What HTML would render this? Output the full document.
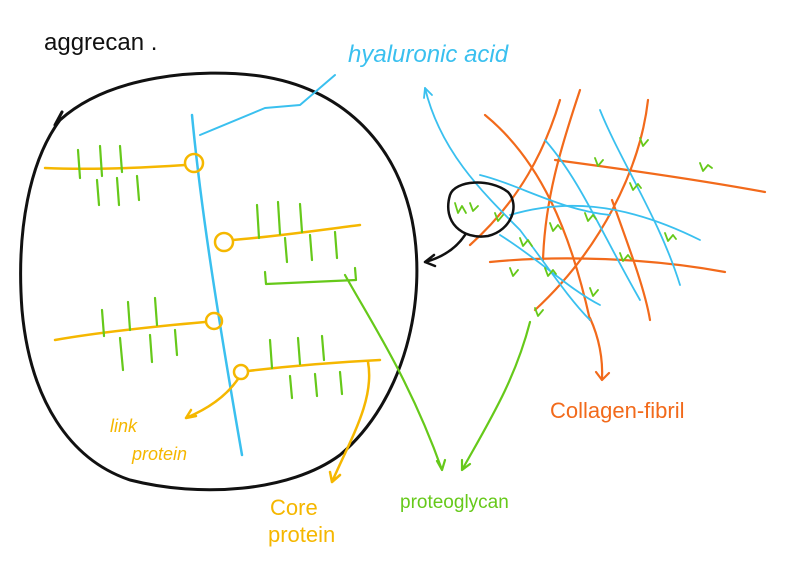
<!DOCTYPE html>
<html><head><meta charset="utf-8"><style>
html,body{margin:0;padding:0;background:#fff;}
svg{display:block}
text{font-family:"Liberation Sans",sans-serif;}
</style></head><body>
<svg width="800" height="586" viewBox="0 0 800 586" xmlns="http://www.w3.org/2000/svg" fill="none" stroke-linecap="round" stroke-linejoin="round">
<text x="44" y="50" font-size="24" fill="#111" stroke="none">aggrecan .</text>
<path d="M60,120 C110,75 200,68 260,76 C340,88 395,140 412,220 C428,300 405,400 340,455 C290,492 200,498 130,480 C70,460 30,400 22,310 C16,230 30,160 60,120 Z M55,125 L62,112" stroke="#111" stroke-width="3"/>
<path d="M192,115 C200,200 215,300 242,455" stroke="#3ac0ef" stroke-width="2.5"/>
<path d="M200,135 L265,108 L300,105 L335,75" stroke="#3ac0ef" stroke-width="2"/>
<text x="348" y="62" font-size="24" font-style="italic" fill="#3ac0ef" stroke="none">hyaluronic acid</text>
<g stroke="#f5b700" stroke-width="2.5">
<path d="M45,168 C90,170 140,168 185,165"/><circle cx="194" cy="163" r="9"/>
<circle cx="224" cy="242" r="9"/><path d="M233,240 C280,236 320,230 360,225"/>
<path d="M55,340 C100,332 160,326 205,322"/><circle cx="214" cy="321" r="8"/>
<circle cx="241" cy="372" r="7"/><path d="M248,371 C290,366 340,362 380,360"/>
<path d="M238,379 C225,398 205,410 186,418 M186,418 l10,-2 M186,418 l5,-8"/>
<path d="M368,362 C375,400 350,440 332,482 M332,482 l-2,-10 M332,482 l8,-7"/>
</g>
<text x="110" y="432" font-size="18" font-style="italic" fill="#f5b700" stroke="none">link</text>
<text x="132" y="460" font-size="18" font-style="italic" fill="#f5b700" stroke="none">protein</text>
<text x="270" y="515" font-size="22" fill="#f5b700" stroke="none">Core</text>
<text x="268" y="542" font-size="22" fill="#f5b700" stroke="none">protein</text>
<g stroke="#66c91a" stroke-width="2.2">
<path d="M78,150 L80,178 M100,146 L102,176 M120,146 L122,172 M97,180 L99,205 M117,178 L119,205 M137,176 L139,200"/>
<path d="M257,205 L259,238 M278,202 L280,234 M300,204 L302,232 M285,238 L287,262 M310,235 L312,260 M335,232 L337,258"/>
<path d="M265,272 L266,284 L356,280 L355,268"/>
<path d="M102,310 L104,336 M128,302 L130,330 M155,298 L157,325 M120,338 L123,370 M150,335 L152,362 M175,330 L177,355"/>
<path d="M270,340 L272,368 M298,338 L300,364 M322,336 L324,360 M290,376 L292,398 M315,374 L317,396 M340,372 L342,394"/>
<path d="M345,275 C370,320 410,380 442,470 M442,470 l-5,-9 M442,470 l3,-10"/>
<path d="M530,322 C515,380 490,420 462,470 M462,470 l0,-10 M462,470 l8,-6"/>
</g>
<text x="400" y="508" font-size="19" fill="#66c91a" stroke="none">proteoglycan</text>
<g stroke="#f26a1b" stroke-width="2.2">
<path d="M470,245 C520,200 545,150 560,100"/>
<path d="M485,115 C540,160 570,230 590,320"/>
<path d="M535,310 C600,250 640,170 648,100"/>
<path d="M580,90 C560,150 545,200 543,260"/>
<path d="M555,160 C630,170 700,180 765,192"/>
<path d="M490,262 C560,255 650,258 725,272"/>
<path d="M612,200 C630,250 645,290 650,320"/>
<path d="M590,318 C600,340 603,360 602,380 M602,380 l-6,-8 M602,380 l7,-7"/>
</g>
<g stroke="#3ac0ef" stroke-width="1.8">
<path d="M425,88 C440,150 480,190 520,230 C550,270 570,300 590,320"/>
<path d="M425,88 l-1,10 M425,88 l7,7"/>
<path d="M510,215 C560,200 620,200 700,240"/>
<path d="M600,110 C620,160 660,220 680,285"/>
<path d="M545,140 C580,180 600,230 640,300"/>
<path d="M480,175 C520,185 560,210 610,215"/>
<path d="M500,235 C540,260 570,290 600,305"/>
</g>
<g stroke="#66c91a" stroke-width="1.8">
<path d="M455,203 l3,10 l4,-7 l4,7 M470,203 l3,8 l5,-5"/>
<path d="M520,238 l3,8 l5,-6 l4,6 M550,223 l3,8 l5,-6 l3,4 M585,213 l3,8 l5,-6 l3,4 M630,183 l3,7 l5,-6 l3,4 M640,138 l3,8 l5,-6 M665,233 l3,8 l5,-6 l3,4 M700,163 l3,8 l5,-6 l4,3 M590,288 l3,8 l5,-6 M545,268 l3,8 l5,-6 l3,4 M510,268 l3,8 l5,-6 M620,253 l3,8 l5,-6 l3,4 M595,158 l3,8 l5,-6 M535,308 l3,8 l5,-6 M495,213 l3,8 l5,-6"/>
</g>
<path d="M450,195 C455,180 490,178 508,192 C520,205 512,230 488,236 C462,240 442,222 450,195 Z" stroke="#111" stroke-width="2.5"/>
<path d="M465,235 C455,250 440,258 425,262 M425,262 l9,-7 M425,262 l10,4" stroke="#111" stroke-width="2.5"/>
<text x="550" y="418" font-size="22" fill="#f26a1b" stroke="none">Collagen-fibril</text>
</svg>
</body></html>
